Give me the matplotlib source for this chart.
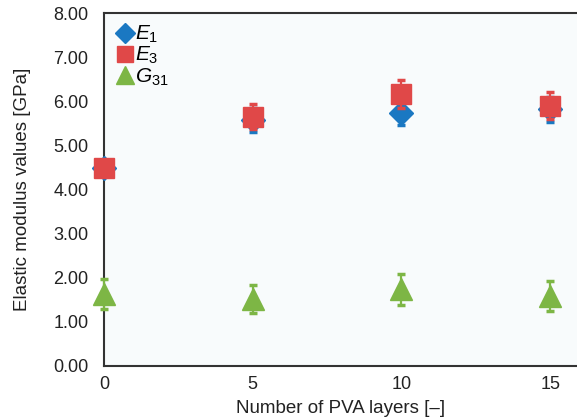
import matplotlib.pyplot as plt
from matplotlib.lines import Line2D

plt.rcParams['font.family'] = ['Liberation Sans', 'DejaVu Sans']
plt.rcParams['mathtext.fontset'] = 'custom'
plt.rcParams['mathtext.it'] = 'Liberation Sans:italic'
plt.rcParams['mathtext.rm'] = 'Liberation Sans'

layers = [0, 5, 10, 15]
e1 = [4.50, 5.58, 5.74, 5.82]
e1_err = [0.05, 0.28, 0.27, 0.29]
e3 = [4.50, 5.66, 6.17, 5.91]
e3_err = [0.05, 0.29, 0.31, 0.31]
g31 = [1.63, 1.52, 1.74, 1.59]
g31_err = [0.34, 0.32, 0.35, 0.34]

blue, red, green = '#1a78c2', '#e04848', '#7db645'

fig = plt.figure(figsize=(5.77, 4.19), dpi=100)
ax = fig.add_axes([0.180, 0.1265, 0.820, 0.8415])
ax.set_facecolor('#f8fbfc')

ax.errorbar(layers, e1, yerr=e1_err, fmt='D', color=blue, ms=12,
            elinewidth=1.6, capsize=3, capthick=2.5, clip_on=False, zorder=3)
ax.errorbar(layers, e3, yerr=e3_err, fmt='s', color=red, ms=14,
            elinewidth=1.6, capsize=3, capthick=2.5, clip_on=False, zorder=4)
ax.errorbar(layers, g31, yerr=g31_err, fmt='^', color=green, ms=16,
            elinewidth=1.6, capsize=3, capthick=2.5, clip_on=False, zorder=3)

ax.set_xlim(0, 15.9)
ax.set_ylim(0, 8)
ax.set_xticks([0, 5, 10, 15])
ax.set_yticks(range(0, 9))
ax.set_yticklabels([f'{v:.2f}' for v in range(0, 9)])
ax.tick_params(length=0, labelsize=13, colors='#222222')
ax.tick_params(axis='x', pad=7)
ax.tick_params(axis='y', pad=11)
for s in ['left', 'bottom', 'top']:
    ax.spines[s].set_color('#333333')
    ax.spines[s].set_linewidth(1.5)
ax.spines['right'].set_visible(False)

ax.set_xlabel('Number of PVA layers [–]', fontsize=13.5, color='#222222', labelpad=5)
ax.set_ylabel('Elastic modulus values [GPa]', fontsize=13.5, color='#222222', labelpad=16)

handles = [Line2D([], [], ls='none', marker='D', color=blue, ms=10),
           Line2D([], [], ls='none', marker='s', color=red, ms=11),
           Line2D([], [], ls='none', marker='^', color=green, ms=13)]
ax.legend(handles, ['$E_1$', '$E_3$', '$G_{31}$'], loc='upper left', frameon=False,
          fontsize=15, handletextpad=0.0, borderaxespad=0.1, labelspacing=0.0,
          handlelength=1.0, bbox_to_anchor=(0.0, 1.0))

plt.savefig('out.png', dpi=100)
